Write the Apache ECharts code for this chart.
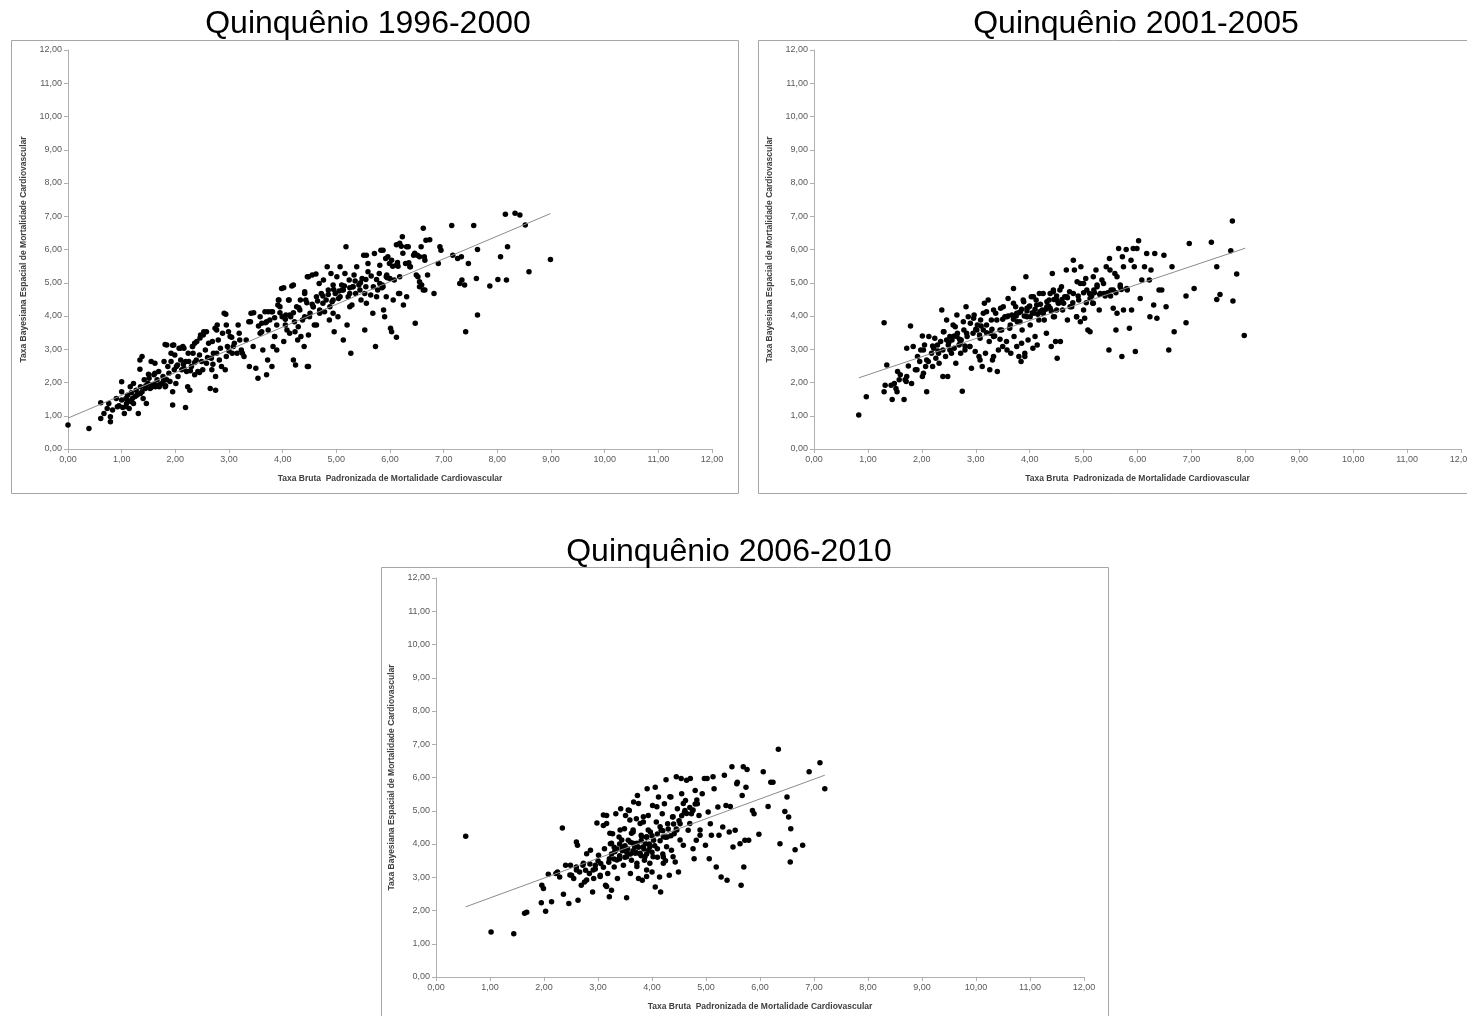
<!DOCTYPE html>
<html>
<head>
<meta charset="utf-8">
<script src="https://cdn.jsdelivr.net/npm/echarts@6/dist/echarts.min.js"></script>
<style>
html,body{margin:0;padding:0;background:#fff;}
#chart{width:1467px;height:1016px;}
</style>
</head>
<body>
<div id="chart"></div>
<script>
// ---------------- DATA ----------------
const titles = ["Quinquênio 1996-2000", "Quinquênio 2001-2005", "Quinquênio 2006-2010"];
const xAxisName = "Taxa Bruta  Padronizada de Mortalidade Cardiovascular";
const yAxisName = "Taxa Bayesiana Espacial de Mortalidade Cardiovascular";
const axisMin = 0, axisMax = 12, axisStep = 1;

const pts1996 = [
[0,0.72],[0.39,0.62],[0.61,1.39],[0.61,0.92],[0.67,1.07],[0.73,1.22],[0.76,1.37],[0.79,0.82],[0.79,0.97],[0.83,1.17],
[0.9,1.52],[0.92,1.27],[1.0,2.02],[1.0,1.72],[1.0,1.47],[1.02,1.25],[1.05,1.07],[1.08,1.52],[1.09,1.37],[1.11,1.62],
[1.14,1.22],[1.16,1.87],[1.18,1.69],[1.2,1.52],[1.22,1.97],[1.22,1.37],[1.27,1.77],[1.28,1.62],[1.31,1.07],[1.34,2.68],
[1.34,2.4],[1.35,1.87],[1.35,1.67],[1.38,2.78],[1.4,1.52],[1.42,2.08],[1.44,1.82],[1.46,1.37],[1.49,1.97],[1.51,2.13],
[1.53,1.82],[1.55,2.63],[1.57,1.93],[1.6,2.23],[1.62,2.58],[1.63,1.87],[1.66,2.08],[1.69,2.33],[1.7,1.87],[1.75,1.97],
[1.77,2.18],[1.79,2.63],[1.81,1.87],[1.84,3.13],[1.84,2.08],[1.86,2.48],[1.88,2.28],[1.9,2.03],[1.92,2.88],[1.92,2.63],
[1.95,1.32],[1.95,1.72],[1.97,3.13],[1.98,2.38],[2.01,1.97],[2.04,2.53],[2.05,2.18],[2.07,3.03],[2.1,2.68],[2.12,2.38],
[2.14,3.08],[2.16,2.43],[2.19,1.25],[2.19,2.63],[2.21,2.33],[2.23,1.87],[2.25,2.63],[2.27,1.77],[2.3,2.48],[2.32,3.08],
[2.33,2.88],[2.36,2.23],[2.39,2.68],[2.4,3.23],[2.42,2.33],[2.45,2.83],[2.47,3.43],[2.49,2.63],[2.51,2.38],[2.53,3.53],
[2.56,2.98],[2.58,2.58],[2.62,3.18],[2.65,1.82],[2.67,2.73],[2.68,2.38],[2.71,2.88],[2.74,3.63],[2.75,1.77],[2.75,2.18],
[2.77,2.88],[2.8,3.28],[2.82,2.68],[2.84,3.03],[2.86,2.48],[2.88,3.48],[2.91,4.08],[2.93,2.38],[2.95,2.78],[2.97,3.08],
[3.02,3.38],[3.06,2.88],[3.1,3.18],[3.15,2.88],[3.19,3.48],[3.23,2.98],[3.28,2.78],[3.32,3.28],[3.37,3.83],[3.38,2.48],
[3.41,4.08],[3.45,3.08],[3.5,2.43],[3.54,2.13],[3.58,3.48],[3.61,3.78],[3.63,2.98],[3.67,4.13],[3.7,2.23],[3.72,2.68],
[3.73,3.58],[3.76,3.88],[3.79,4.13],[3.8,2.48],[3.82,3.08],[3.85,3.38],[3.89,3.73],[3.91,4.33],[3.93,4.48],[3.98,4.83],
[3.99,3.98],[4.02,3.23],[4.05,3.73],[4.06,4.03],[4.08,3.58],[4.11,4.48],[4.13,3.48],[4.15,3.98],[4.17,4.9],[4.2,2.68],
[4.22,3.83],[4.24,2.53],[4.26,4.28],[4.28,3.28],[4.33,4.48],[4.34,3.38],[4.37,3.88],[4.4,3.08],[4.41,4.68],[4.43,4.48],
[4.46,5.18],[4.46,2.48],[4.48,3.43],[4.5,3.98],[4.55,5.23],[4.57,4.28],[4.59,3.73],[4.63,4.58],[4.68,4.98],[4.69,4.08],
[4.72,4.68],[4.76,5.08],[4.78,4.13],[4.81,4.48],[4.83,5.48],[4.85,4.78],[4.87,3.88],[4.9,5.28],[4.92,4.43],[4.94,4.93],
[4.96,3.53],[4.98,4.68],[5.01,5.18],[5.03,3.98],[5.04,4.53],[5.07,5.48],[5.1,4.93],[5.11,4.78],[5.13,3.28],[5.16,5.28],
[5.18,6.08],[5.2,3.73],[5.22,4.58],[5.24,5.08],[5.27,2.88],[5.29,4.33],[5.31,4.88],[5.33,5.23],[5.36,4.68],[5.38,5.48],
[5.42,4.93],[5.46,4.48],[5.48,5.13],[5.51,5.83],[5.53,3.58],[5.55,4.88],[5.59,5.33],[5.64,4.63],[5.68,4.08],[5.71,5.88],
[5.73,3.08],[5.77,4.78],[5.8,5.28],[5.83,5.98],[5.86,4.93],[5.88,4.18],[5.9,3.98],[5.92,5.73],[5.94,5.23],[5.99,5.58],
[6.01,3.63],[6.03,3.53],[6.06,4.48],[6.08,5.08],[6.12,3.36],[6.12,6.14],[6.14,5.61],[6.16,4.68],[6.18,5.18],[6.21,6.1],
[6.23,6.38],[6.25,4.33],[6.29,5.58],[6.34,6.08],[6.38,5.48],[6.44,5.83],[6.47,3.78],[6.49,5.23],[6.51,5.83],[6.55,4.88],
[6.58,6.08],[6.62,6.64],[6.64,5.78],[6.67,6.28],[6.7,5.23],[6.82,4.68],[6.9,5.58],[6.93,6.08],[6.95,5.98],[7.15,6.72],
[7.17,5.83],[7.26,5.73],[7.3,4.98],[7.33,5.78],[7.34,5.08],[7.39,4.93],[7.41,3.53],[7.46,5.58],[7.56,6.72],[7.61,5.13],
[7.63,4.03],[7.63,6.0],[7.86,4.9],[8.01,5.1],[8.06,5.78],[8.15,7.06],[8.17,5.08],[8.19,6.08],[8.33,7.09],[8.42,7.04],
[8.52,6.74],[8.59,5.33],[8.99,5.7],
[1.12,1.45],[1.25,1.58],[1.3,1.65],[1.38,1.72],[1.45,1.9],[1.55,1.85],[1.6,1.95],[1.65,1.92],[1.72,1.95],[1.78,2.05],
[1.82,1.9],[1.18,1.42],[1.08,1.28],[0.95,1.3],[1.5,2.25],[1.62,2.28],[2.02,2.48],[2.15,2.55],[2.28,2.35],[2.36,2.6],
[2.45,2.3],[2.6,2.75],[2.7,2.55],[3.0,2.95],[3.55,3.7],[3.68,3.8],[3.85,3.95],[3.95,4.1],[4.05,3.9],[4.2,4.1],
[4.3,4.25],[4.45,4.4],[4.55,4.35],[4.65,4.45],[4.75,4.6],[4.85,4.65],[4.95,4.8],[5.05,4.75],[5.15,4.9],[5.25,4.85],
[5.35,5.05],[5.45,5.0],[5.55,5.1],[5.65,5.2],[5.75,5.1],[5.85,4.85],[5.95,5.15],[6.05,5.5],[6.15,5.5],[6.35,5.6],
[1.81,3.14],[1.95,3.12],[1.99,2.83],[2.09,3.03],[2.16,3.03],[2.24,2.88],[2.32,3.08],[2.36,3.18],[2.46,3.34],[2.52,3.43],
[2.58,3.53],[2.69,3.23],[2.77,3.58],[2.78,3.73],[2.94,4.05],[2.95,3.73],[2.99,3.53],[3.05,3.36],[3.08,3.08],[3.17,3.73],
[3.2,3.28],[3.25,2.88],[3.4,3.83],[3.46,4.1],[3.58,3.98],[3.61,3.53],[3.7,3.83],[3.73,4.13],[3.81,4.13],[3.85,3.38],
[3.89,2.98],[3.92,4.48],[3.95,4.28],[4.02,4.85],[4.12,4.48],[4.13,4.03],[4.2,4.93],[4.23,3.53],[4.29,3.68],[4.32,4.18],
[4.41,4.73],[4.48,5.18],[4.48,2.48],[4.62,5.26],[4.63,3.73],
[5.56,5.83],[5.59,5.58],[5.81,5.53],[5.87,5.98],[5.96,5.78],[6.03,5.68],[6.12,5.53],[6.18,6.19],[6.24,5.89],[6.31,6.08],
[6.37,5.48],[6.46,5.89],[6.55,5.78],[6.65,5.68],[6.74,6.29],[6.52,5.18],[6.59,4.93],[6.62,4.78],[5.93,5.18],[6.0,5.13],
[5.87,4.88],[5.81,4.98],[5.75,4.58],[5.69,4.88],[5.53,4.68],[5.44,4.78],[5.31,4.88],[5.25,4.68],[5.13,4.78],[5.07,4.58],
[4.94,4.48],[4.88,4.28],[4.75,4.38],[4.69,4.18],[4.57,4.28],[4.51,4.08],[4.41,3.98],[4.94,4.08],[5.25,4.28],[5.56,4.38],
[5.93,4.58],[6.18,4.68],[6.31,4.58],[6.55,5.03],[6.65,4.78]
];
const trend1996 = [[0,0.93],[8.99,7.08]];

const pts2001 = [
[0.83,1.02],[0.97,1.57],[1.3,3.8],[1.3,1.72],[1.32,1.92],[1.35,2.53],[1.43,1.92],[1.45,1.49],[1.49,1.97],[1.52,1.82],
[1.54,1.72],[1.55,2.33],[1.58,2.08],[1.6,2.23],[1.67,1.49],[1.69,2.08],[1.71,2.03],[1.72,3.03],[1.75,2.5],[1.79,3.7],
[1.81,1.97],[1.84,3.08],[1.88,2.38],[1.92,2.78],[1.96,2.63],[1.98,2.98],[2.01,3.4],[2.01,2.18],[2.03,2.28],[2.05,3.13],
[2.07,2.48],[2.09,1.72],[2.12,2.63],[2.13,3.38],[2.18,2.88],[2.2,2.48],[2.22,3.03],[2.24,3.33],[2.26,2.73],[2.29,3.13],
[2.31,2.88],[2.32,2.58],[2.35,3.23],[2.37,4.18],[2.39,2.18],[2.39,2.98],[2.41,3.53],[2.44,2.78],[2.46,3.88],[2.48,2.18],
[2.49,3.13],[2.52,3.38],[2.55,2.88],[2.56,3.28],[2.58,3.73],[2.6,3.03],[2.63,2.58],[2.65,4.03],[2.66,3.48],[2.69,3.13],
[2.72,2.88],[2.73,3.28],[2.75,1.74],[2.78,3.58],[2.8,2.98],[2.82,4.28],[2.84,3.38],[2.86,3.98],[2.89,3.08],[2.9,3.78],
[2.92,2.43],[2.95,3.48],[2.97,4.03],[2.99,2.93],[3.03,3.73],[3.06,2.78],[3.07,3.43],[3.09,3.88],[3.12,2.48],[3.14,3.58],
[3.16,4.38],[3.18,2.88],[3.2,4.13],[3.23,4.48],[3.25,3.23],[3.26,2.38],[3.29,3.88],[3.31,2.68],[3.33,3.38],[3.37,4.08],
[3.4,2.33],[3.42,2.98],[3.46,4.23],[3.48,3.58],[3.5,3.08],[3.54,3.98],[3.57,3.23],[3.6,4.53],[3.63,3.63],[3.65,2.88],
[3.67,4.03],[3.7,4.83],[3.71,3.38],[3.74,4.28],[3.76,3.08],[3.77,3.83],[3.8,2.78],[3.83,4.13],[3.84,2.63],[3.86,3.58],
[3.89,4.43],[3.91,2.88],[3.93,5.18],[3.95,3.98],[3.97,3.28],[3.99,4.28],[4.01,3.73],[4.03,4.58],[4.06,3.03],[4.08,4.08],
[4.1,3.38],[4.12,4.48],[4.14,3.13],[4.17,3.88],[4.18,4.68],[4.23,4.18],[4.27,3.88],[4.31,3.48],[4.36,4.48],[4.4,3.08],
[4.42,5.28],[4.44,4.78],[4.46,3.98],[4.48,3.23],[4.51,2.73],[4.53,4.38],[4.57,3.23],[4.59,4.88],[4.61,4.18],[4.65,4.58],
[4.68,5.38],[4.7,3.88],[4.74,4.73],[4.78,4.28],[4.81,5.68],[4.83,5.38],[4.87,3.98],[4.88,5.03],[4.91,4.48],[4.94,3.83],
[4.95,5.48],[5.0,4.98],[5.02,3.93],[5.04,5.13],[5.08,3.58],[5.11,4.68],[5.12,3.53],[5.17,4.38],[5.19,4.78],[5.23,5.38],
[5.25,4.93],[5.29,4.18],[5.34,5.08],[5.38,4.68],[5.42,5.48],[5.47,2.98],[5.48,5.73],[5.51,4.78],[5.55,4.23],[5.58,5.28],
[5.6,3.58],[5.62,4.08],[5.65,6.03],[5.68,4.93],[5.71,2.78],[5.72,5.78],[5.74,4.18],[5.79,6.0],[5.81,4.78],[5.85,3.63],
[5.88,5.68],[5.89,4.18],[5.92,6.03],[5.94,5.48],[5.96,2.93],[5.99,6.03],[6.02,6.26],[6.05,4.53],[6.08,5.08],[6.13,5.48],
[6.17,5.88],[6.22,5.08],[6.23,3.98],[6.25,5.38],[6.3,4.33],[6.32,5.88],[6.36,3.93],[6.4,4.78],[6.45,4.78],[6.49,5.83],
[6.53,4.28],[6.58,2.98],[6.64,5.48],[6.68,3.53],[6.9,3.8],[6.9,4.6],[6.96,6.18],[7.05,4.83],[7.37,6.22],[7.47,5.48],
[7.47,4.5],[7.53,4.65],[7.73,5.96],[7.76,6.86],[7.77,4.45],[7.84,5.26],[7.98,3.41],
[3.5,3.9],[3.6,4.0],[3.7,3.9],[3.75,4.0],[3.8,4.1],[3.85,4.2],[3.9,4.0],[3.95,4.15],[4.0,4.3],[4.05,4.1],
[4.1,4.2],[4.15,4.05],[4.2,4.35],[4.25,4.1],[4.3,4.2],[4.35,4.3],[4.4,4.15],[4.45,4.5],[4.5,4.6],[4.55,4.4],
[4.6,4.5],[4.7,4.55],[4.8,4.4],[4.9,4.6],[5.0,4.7],[5.05,4.4],[5.15,4.6],[5.2,4.7],[5.3,4.65],[5.4,4.6],
[5.45,4.7],[5.5,4.6],[5.6,4.7],[5.7,4.8],[2.6,3.4],[2.7,3.3],[2.8,3.1],[3.0,3.6],[3.1,3.7],[3.2,3.5],
[3.3,3.6],[3.35,3.4],[3.45,3.3],[2.5,3.2],[2.3,2.95],[2.2,3.1],
[2.4,3.53],[2.46,3.28],[2.52,2.98],[2.62,3.68],[2.65,3.38],[2.71,3.18],[2.77,3.83],[2.83,3.48],[2.89,3.08],[2.96,3.93],
[3.02,3.58],[3.08,3.33],[3.14,4.08],[3.2,3.73],[3.27,3.48],[3.33,4.18],[3.39,3.88],[3.45,3.58],[3.51,4.28],[3.58,3.98],
[3.64,3.73],[3.7,4.38],[3.76,4.08],[3.82,3.83],[3.88,4.48],[3.95,4.23],[4.01,3.98],[4.07,4.58],[4.13,4.33],[4.19,4.13],
[4.25,4.68],[4.32,4.43],[4.38,4.23],[4.44,4.73],[4.5,4.48],[3.85,3.18],[3.91,2.78],[3.58,2.98],[3.33,2.78],[3.08,2.68],
[2.03,2.98],[2.09,2.68],[1.91,2.38],[1.72,2.18],
[4.38,4.68],[4.56,4.78],[4.69,4.58],[4.81,4.68],[4.94,4.98],[5.06,4.78],[5.12,4.53],[5.18,5.18],[5.25,4.88],[5.31,4.68],
[5.37,4.98],[5.43,4.68],[5.49,5.38],[5.55,4.78],[5.62,5.18],[5.68,4.88],[5.74,5.48],[5.8,4.83],[4.32,4.28],[4.5,4.18],
[4.63,4.38],[4.75,4.28],[4.87,3.98],[5.0,4.18],[5.18,4.38],[4.44,3.98],[4.25,4.08]
];
const trend2001 = [[0.83,2.14],[8.0,6.04]];

const pts2006 = [
[0.55,4.23],[1.02,1.35],[1.44,1.3],[1.64,1.92],[1.68,1.95],[1.95,2.23],[1.96,2.76],[1.99,2.66],[2.03,1.98],[2.08,3.09],
[2.14,2.26],[2.22,3.11],[2.25,3.16],[2.29,3.01],[2.34,4.48],[2.36,2.49],[2.4,3.36],[2.46,2.21],[2.49,3.36],[2.51,3.06],
[2.55,2.96],[2.6,4.06],[2.6,3.31],[2.62,3.96],[2.63,2.31],[2.66,3.16],[2.69,2.76],[2.72,3.36],[2.75,2.86],[2.77,3.21],
[2.79,3.71],[2.84,3.11],[2.86,3.81],[2.9,2.56],[2.92,2.96],[2.95,3.36],[2.98,4.63],[3.01,3.66],[3.04,3.06],[3.05,3.41],
[3.1,4.56],[3.12,3.86],[3.14,2.76],[3.16,4.86],[3.18,3.11],[3.21,2.41],[3.21,3.56],[3.23,4.01],[3.25,2.61],[3.27,4.31],
[3.3,3.31],[3.32,3.81],[3.33,4.91],[3.36,2.96],[3.39,4.21],[3.4,3.56],[3.42,5.06],[3.45,3.91],[3.47,3.36],[3.49,4.46],
[3.51,4.86],[3.53,2.38],[3.53,3.76],[3.56,4.11],[3.58,5.01],[3.6,3.11],[3.62,3.51],[3.65,4.36],[3.66,5.26],[3.68,3.91],
[3.71,4.76],[3.73,5.46],[3.75,2.96],[3.77,3.71],[3.8,4.26],[3.82,2.91],[3.84,4.66],[3.86,3.51],[3.88,4.01],[3.91,5.66],
[3.93,4.86],[3.94,3.81],[3.97,4.36],[4.0,3.16],[4.01,5.16],[4.03,4.11],[4.06,2.71],[4.06,5.71],[4.08,4.66],[4.1,3.86],
[4.12,5.41],[4.14,3.01],[4.16,2.56],[4.17,4.41],[4.19,4.91],[4.21,3.61],[4.23,5.21],[4.26,5.93],[4.28,4.21],[4.29,4.61],
[4.32,3.06],[4.35,5.41],[4.36,3.81],[4.38,4.81],[4.41,4.31],[4.43,3.46],[4.45,6.02],[4.47,5.06],[4.49,3.16],[4.52,4.61],
[4.54,5.97],[4.55,5.51],[4.58,3.96],[4.61,5.01],[4.62,5.31],[4.64,5.92],[4.67,4.41],[4.71,5.97],[4.73,4.91],[4.76,3.86],
[4.78,3.56],[4.8,5.61],[4.82,4.11],[4.84,5.21],[4.87,4.86],[4.89,4.26],[4.93,5.51],[4.97,5.97],[4.99,3.96],[5.02,5.97],
[5.04,4.96],[5.06,3.56],[5.08,4.61],[5.1,4.26],[5.13,6.02],[5.15,5.66],[5.19,3.31],[5.22,5.11],[5.24,4.26],[5.28,3.01],
[5.31,4.51],[5.34,6.07],[5.37,5.16],[5.39,2.91],[5.43,4.36],[5.45,5.13],[5.48,6.32],[5.5,3.91],[5.54,4.41],[5.57,5.81],
[5.58,5.86],[5.63,4.01],[5.65,2.76],[5.67,5.46],[5.69,6.32],[5.7,3.31],[5.72,4.11],[5.74,5.71],[5.76,6.24],[5.79,4.11],
[5.86,5.01],[5.89,4.91],[5.98,4.29],[6.06,6.17],[6.15,5.13],[6.2,5.86],[6.24,5.86],[6.34,6.85],[6.37,4.01],[6.46,4.98],
[6.5,5.41],[6.53,4.81],[6.56,3.46],[6.57,4.46],[6.65,3.83],[6.79,3.96],[6.91,6.17],[7.11,6.44],[7.2,5.66],
[3.25,3.7],[3.3,3.9],[3.35,3.85],[3.4,4.0],[3.45,3.8],[3.5,3.95],[3.55,3.85],[3.6,4.05],[3.65,3.8],[3.7,4.0],
[3.75,3.9],[3.8,4.1],[3.85,3.85],[3.9,4.2],[3.95,4.0],[4.0,4.25],[4.05,3.95],[4.1,4.3],[4.15,4.1],[4.2,4.4],
[4.25,4.2],[4.3,4.45],[4.35,4.25],[4.4,4.6],[4.45,4.45],[4.5,4.7],[4.55,4.85],[4.6,4.95],[4.7,5.1],[4.75,5.0],
[4.8,5.2],[3.2,3.45],[3.3,3.55],[3.4,3.65],[3.5,3.6],[3.6,3.7],[3.7,3.75],[3.8,3.65],[3.9,3.7],[4.0,3.75],
[4.1,3.6],[4.2,3.7],[4.25,3.5],[3.0,3.5],[2.95,3.25],[3.1,3.3],[2.85,3.4],
[3.1,4.87],[3.16,4.62],[3.22,4.32],[3.25,4.02],[3.31,3.77],[3.35,3.52],[3.41,4.42],[3.44,4.12],[3.47,3.87],[3.53,3.62],
[3.56,5.02],[3.59,4.72],[3.62,4.32],[3.65,4.02],[3.69,3.72],[3.72,3.42],[3.75,5.22],[3.78,4.62],[3.81,4.22],[3.84,3.92],
[3.87,3.62],[3.9,3.22],[3.93,4.42],
[3.65,4.42],[3.72,4.02],[3.78,3.72],[3.84,4.82],[3.9,4.22],[3.96,3.92],[4.02,3.62],[4.09,5.12],[4.15,4.52],[4.21,4.22],
[4.27,3.92],[4.33,5.42],[4.39,4.82],[4.46,4.42],[4.52,4.12],[4.58,5.22],[4.64,4.92],[4.7,4.62],[4.76,5.02],[4.83,5.32],
[4.89,4.42],[3.96,3.42],[4.21,3.42],[4.39,3.62],[3.72,3.32],[3.9,3.02],
[2.79,2.92],[2.91,3.22],[3.04,3.02],[3.16,2.72],[2.6,3.22],[2.48,3.07],[2.73,3.42]
];
const trend2006 = [[0.55,2.11],[7.2,6.07]];

// ---------------- CHART ----------------
const FONT = "'Liberation Sans',Arial,sans-serif";
const fmt = v => v.toFixed(2).replace('.', ',');

const panels = [
  {pts: pts1996, trend: trend1996, grid: {left: 68, top: 50, width: 644, height: 399}, titleX: 363, titleY: 3, box: [11, 40, 727, 453]},
  {pts: pts2001, trend: trend2001, grid: {left: 814, top: 50, width: 647, height: 399}, titleX: 1131, titleY: 3, box: [758, 40, 720, 453]},
  {pts: pts2006, trend: trend2006, grid: {left: 436, top: 578, width: 648, height: 399}, titleX: 724, titleY: 531, box: [381, 567, 727, 460]}
];

const option = {
  backgroundColor: '#fff',
  animation: false,
  title: panels.map((p, i) => ({
    text: titles[i], left: p.titleX, top: p.titleY, textAlign: 'center',
    textStyle: {fontFamily: "'Liberation Sans',Arial,sans-serif", fontSize: 32, fontWeight: 'normal', color: '#000'}
  })),
  graphic: panels.map(p => ({
    type: 'rect', silent: true, z: -1,
    shape: {x: p.box[0] + 0.5, y: p.box[1] + 0.5, width: p.box[2], height: p.box[3]},
    style: {fill: 'none', stroke: '#a6a6a6', lineWidth: 1}
  })),
  grid: panels.map(p => Object.assign({outerBoundsMode: 'none', containLabel: false}, p.grid)),
  xAxis: panels.map((p, i) => ({
    type: 'value', gridIndex: i, min: axisMin, max: axisMax, interval: axisStep,
    name: xAxisName, nameLocation: 'middle', nameGap: 25,
    nameTextStyle: {fontFamily: FONT, fontSize: 8.5, fontWeight: 'bold', color: '#404040'},
    axisLine: {show: true, lineStyle: {color: '#b0b0b0', width: 1}},
    axisTick: {show: true, length: 4, lineStyle: {color: '#b0b0b0'}},
    axisLabel: {formatter: fmt, fontFamily: FONT, fontSize: 9, color: '#595959', margin: 6},
    splitLine: {show: false}
  })),
  yAxis: panels.map((p, i) => ({
    type: 'value', gridIndex: i, min: axisMin, max: axisMax, interval: axisStep,
    name: yAxisName, nameLocation: 'middle', nameGap: 40, nameRotate: 90,
    nameTextStyle: {fontFamily: FONT, fontSize: 8.5, fontWeight: 'bold', color: '#404040'},
    axisLine: {show: true, lineStyle: {color: '#b0b0b0', width: 1}},
    axisTick: {show: true, length: 4, lineStyle: {color: '#b0b0b0'}},
    axisLabel: {formatter: fmt, fontFamily: FONT, fontSize: 9, color: '#595959', margin: 6},
    splitLine: {show: false}
  })),
  series: []
};

panels.forEach((p, i) => {
  option.series.push({
    type: 'scatter', xAxisIndex: i, yAxisIndex: i, data: p.pts,
    symbol: 'circle', symbolSize: 5.5, itemStyle: {color: '#000', opacity: 1}, silent: true
  });
  option.series.push({
    type: 'line', xAxisIndex: i, yAxisIndex: i, data: p.trend,
    showSymbol: false, symbol: 'none', lineStyle: {color: '#8c8c8c', width: 1}, silent: true, z: 3
  });
});

const chart = echarts.init(document.getElementById('chart'), null, {renderer: 'canvas'});
chart.setOption(option);
</script>
</body>
</html>
